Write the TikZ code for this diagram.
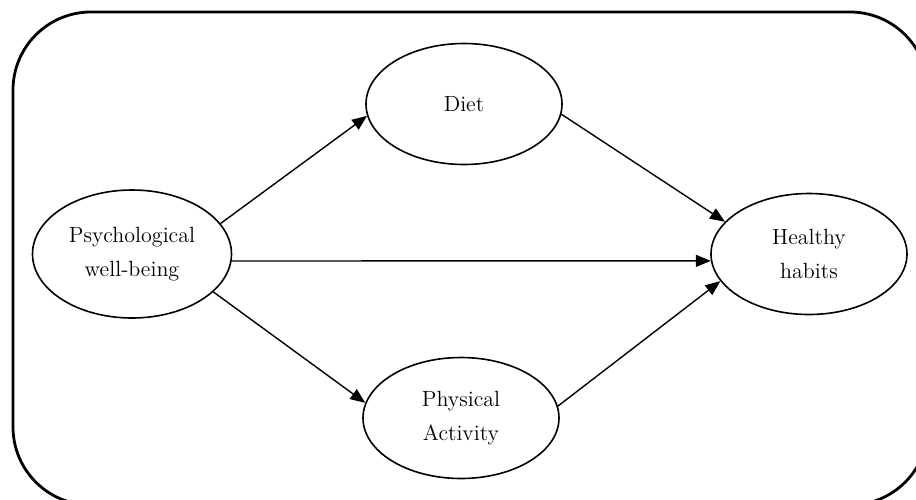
\documentclass[tikz,border=0pt]{standalone}
\usetikzlibrary{shapes.geometric,arrows.meta}
\begin{document}
\begin{tikzpicture}[x=0.5pt,y=-0.5pt,
    var/.style={draw,ellipse,line width=0.8pt,inner sep=0pt,minimum width=98pt,minimum height=60.5pt,align=center,font=\fontsize{11}{17}\selectfont},
    link/.style={-{Triangle[length=7.5pt,width=6pt]},line width=0.7pt}]

        \useasboundingbox (0,0) rectangle (916,499);
        \clip (0,0) rectangle (916,499);
        \draw[line width=1.4pt,rounded corners=39pt] (13,12) rectangle (928,505);

        \node[var,minimum width=99.5pt,minimum height=64pt] (psy) at (132,254) {Psychological\\well-being};
        \node[var] (diet) at (464,104) {Diet};
        \node[var] (phys) at (461,418) {Physical\\Activity};
        \node[var] (hab) at (809,254) {Healthy\\habits};

        \draw[link] (psy.19) -- (diet.187);
        \draw[link] (psy.-4) -- (hab.184);
        \draw[link] (psy.-25) -- (phys.171);
        \draw[link] (diet.-6) -- (hab.159);
        \draw[link] (phys.7) -- (hab.197);
    \end{tikzpicture}
\end{document}
